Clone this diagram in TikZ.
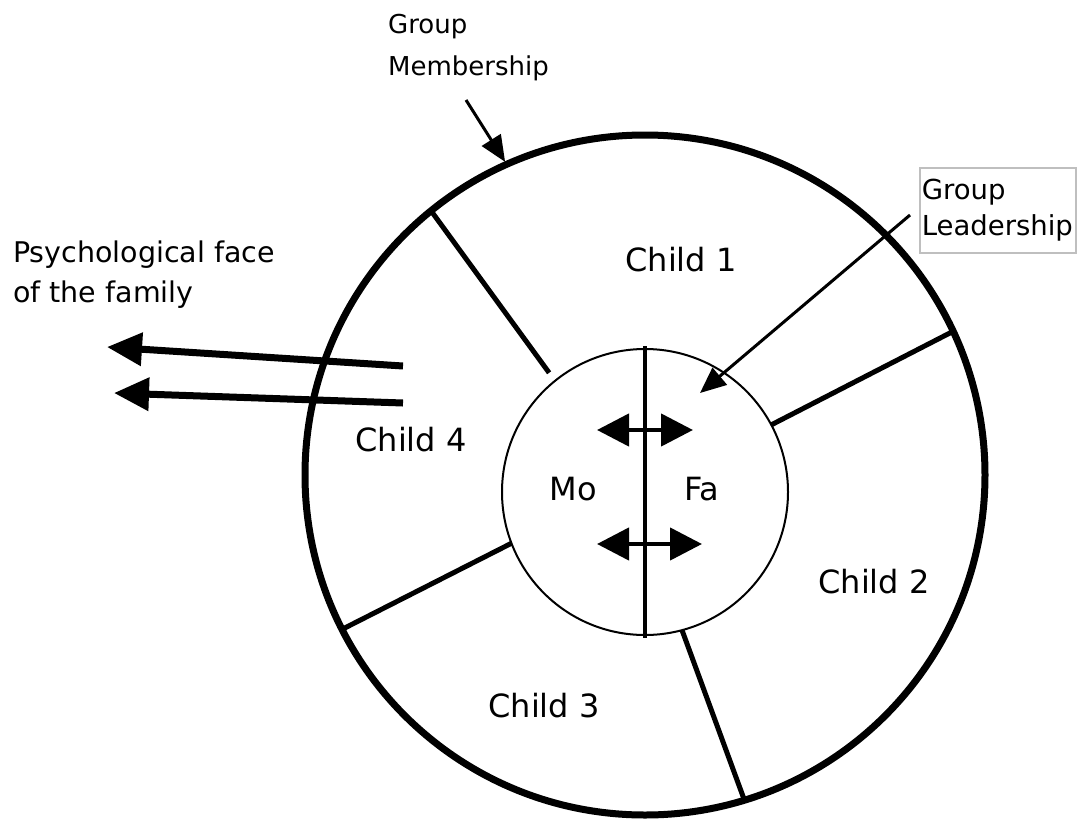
\documentclass[tikz,border=0pt]{standalone}
\usepackage{fontspec}
\setmainfont{DejaVu Sans}
\usetikzlibrary{arrows.meta}
\newcommand\txtsize[2]{\fontsize{#1}{#2}\selectfont}
\begin{document}
\begin{tikzpicture}[x=1pt,y=-1pt,
  rim/.style={circle,draw,line width=7pt,minimum size=680pt,inner sep=0pt,outer sep=0pt},
  core/.style={circle,draw,line width=2pt,minimum size=286pt,inner sep=0pt,outer sep=0pt},
  divider/.style={line width=5pt},
  axis/.style={line width=4pt},
  flow/.style={line width=7pt,-{Triangle[length=35pt,width=32pt]}},
  pointer/.style={line width=3pt,-{Triangle[length=26pt,width=22pt]}},
  swap/.style={line width=4.5pt,{Triangle[length=32pt,width=32pt]}-{Triangle[length=32pt,width=32pt]}},
  member/.style={font=\txtsize{32pt}{38pt},inner sep=0pt,anchor=base},
  note/.style={inner sep=0pt,align=left,anchor=base west},
  leadbox/.style={draw=black!25,line width=1.5pt,anchor=north west,inner xsep=2pt,
    inner ysep=0pt,text width=152pt,minimum height=85pt,align=left,font=\txtsize{27.5pt}{36pt}}]
\useasboundingbox (0,0) rectangle (1077,828);

% family circle and parental core
\node[rim] (outer) at (645,475) {};
\node[core] (inner) at (645,492) {};

% boundaries between the children
\draw[divider,shorten >=10pt] (outer.129.7) -- (inner.129.5);
\draw[divider] (outer.25.3) -- (inner.28.3);
\draw[divider] (outer.-73) -- (inner.-75.3);
\draw[divider] (outer.207.2) -- (inner.201.9);

% split between mother and father
\draw[axis,shorten <=-3pt,shorten >=-3pt] (inner.north) -- (inner.south);

% exchanges between the parents
\coordinate (ua) at (597,430);
\coordinate (ub) at (693,430);
\coordinate (la) at (597,544);
\coordinate (lb) at (702,544);
\draw[swap] (ua) -- (ub);
\draw[swap] (la) -- (lb);

% children and parents
\node[member] (c1) at (681,271) {Child 1};
\node[member] (c2) at (874,593) {Child 2};
\node[member] (c3) at (544,717) {Child 3};
\node[member] (c4) at (411,451) {Child 4};
\node[member] (mo) at (573,500) {Mo};
\node[member] (fa) at (702,500) {Fa};

% outward face of the family
\node[note,font=\txtsize{28.5pt}{40pt}] (face) at (13,302) {Psychological face\\of the family};
\coordinate (f1) at (403,366);
\coordinate (t1) at (107,347);
\coordinate (f2) at (403,403);
\coordinate (t2) at (114,393);
\draw[flow] (f1) -- (t1);
\draw[flow] (f2) -- (t2);

% group membership
\node[note,font=\txtsize{26pt}{42pt}] (gm) at (388,75) {Group\\Membership};
\coordinate (gmtail) at (466,100);
\draw[pointer,shorten >=3pt] (gmtail) -- (outer.114.4);

% group leadership
\node[leadbox] (gl) at (919,167) {Group\\Leadership};
\coordinate (gltail) at (910,215);
\coordinate (gltip) at (700,393);
\draw[pointer] (gltail) -- (gltip);
\end{tikzpicture}
\end{document}
